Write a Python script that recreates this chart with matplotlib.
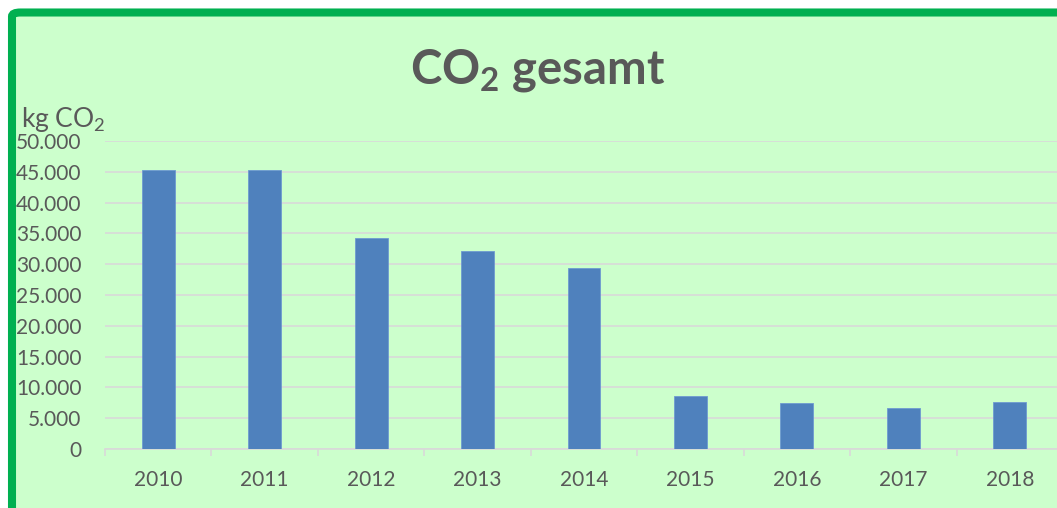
import matplotlib.pyplot as plt
from matplotlib.patches import FancyBboxPatch
from matplotlib.ticker import FuncFormatter, FixedLocator

plt.rcParams['font.family'] = ['Lato', 'DejaVu Sans']
plt.rcParams['mathtext.fontset'] = 'custom'
plt.rcParams['mathtext.rm'] = 'Lato'
plt.rcParams['mathtext.bf'] = 'Lato:bold'

years = ['2010', '2011', '2012', '2013', '2014', '2015', '2016', '2017', '2018']
co2_kg = [45300, 45300, 34250, 32150, 29400, 8600, 7450, 6650, 7600]

grey_text = '#595959'
grid_col = '#D9D9D9'

fig = plt.figure(figsize=(10.57, 5.08), dpi=100)
fig.patch.set_facecolor('white')

# green framed background, cut off on the right and bottom
bg = FancyBboxPatch((12 / 1057, -0.2), 1.2, 0.9754 + 0.2,
                    boxstyle='round,pad=0,rounding_size=0.008',
                    transform=fig.transFigure, facecolor='#CCFFCC',
                    edgecolor='#00B050', linewidth=5.8, zorder=-5)
fig.patches.append(bg)

ax = fig.add_axes([105 / 1057, 59 / 508, 958 / 1057, 308 / 508])
ax.set_facecolor('none')

x = list(range(len(years)))
ax.bar(x, co2_kg, width=0.31, color='#4F81BD', edgecolor='#6E9AD0',
       linewidth=0.6, zorder=3)

ax.set_xlim(-0.5, len(years) - 0.5)
ax.set_ylim(0, 50000)
ax.set_yticks(range(0, 50001, 5000))
ax.yaxis.set_major_formatter(FuncFormatter(lambda v, p: f'{int(v):,}'.replace(',', '.')))
ax.set_xticks(x)
ax.set_xticklabels(years)
ax.xaxis.set_minor_locator(FixedLocator([i - 0.5 for i in range(len(years) + 1)]))

ax.grid(axis='y', color=grid_col, linewidth=1.2, zorder=0)
for s in ['top', 'right', 'left']:
    ax.spines[s].set_visible(False)
ax.spines['bottom'].set_color(grid_col)
ax.spines['bottom'].set_linewidth(1.2)

ax.tick_params(axis='y', length=0, pad=17, labelsize=15, labelcolor=grey_text)
ax.tick_params(axis='x', which='major', length=0, pad=15, labelsize=15, labelcolor=grey_text)
ax.tick_params(axis='x', which='minor', length=5, width=1.2, color=grid_col)

fig.text(538 / 1057, (508 - 83) / 508, r'CO$_\mathbf{2}$ gesamt', ha='center', va='baseline',
         fontsize=34, fontweight='bold', color=grey_text)
fig.text(21 / 1057, (508 - 127) / 508, r'kg CO$_\mathrm{2}$', ha='left', va='baseline',
         fontsize=19, color=grey_text)

fig.savefig('out.png', dpi=100)
